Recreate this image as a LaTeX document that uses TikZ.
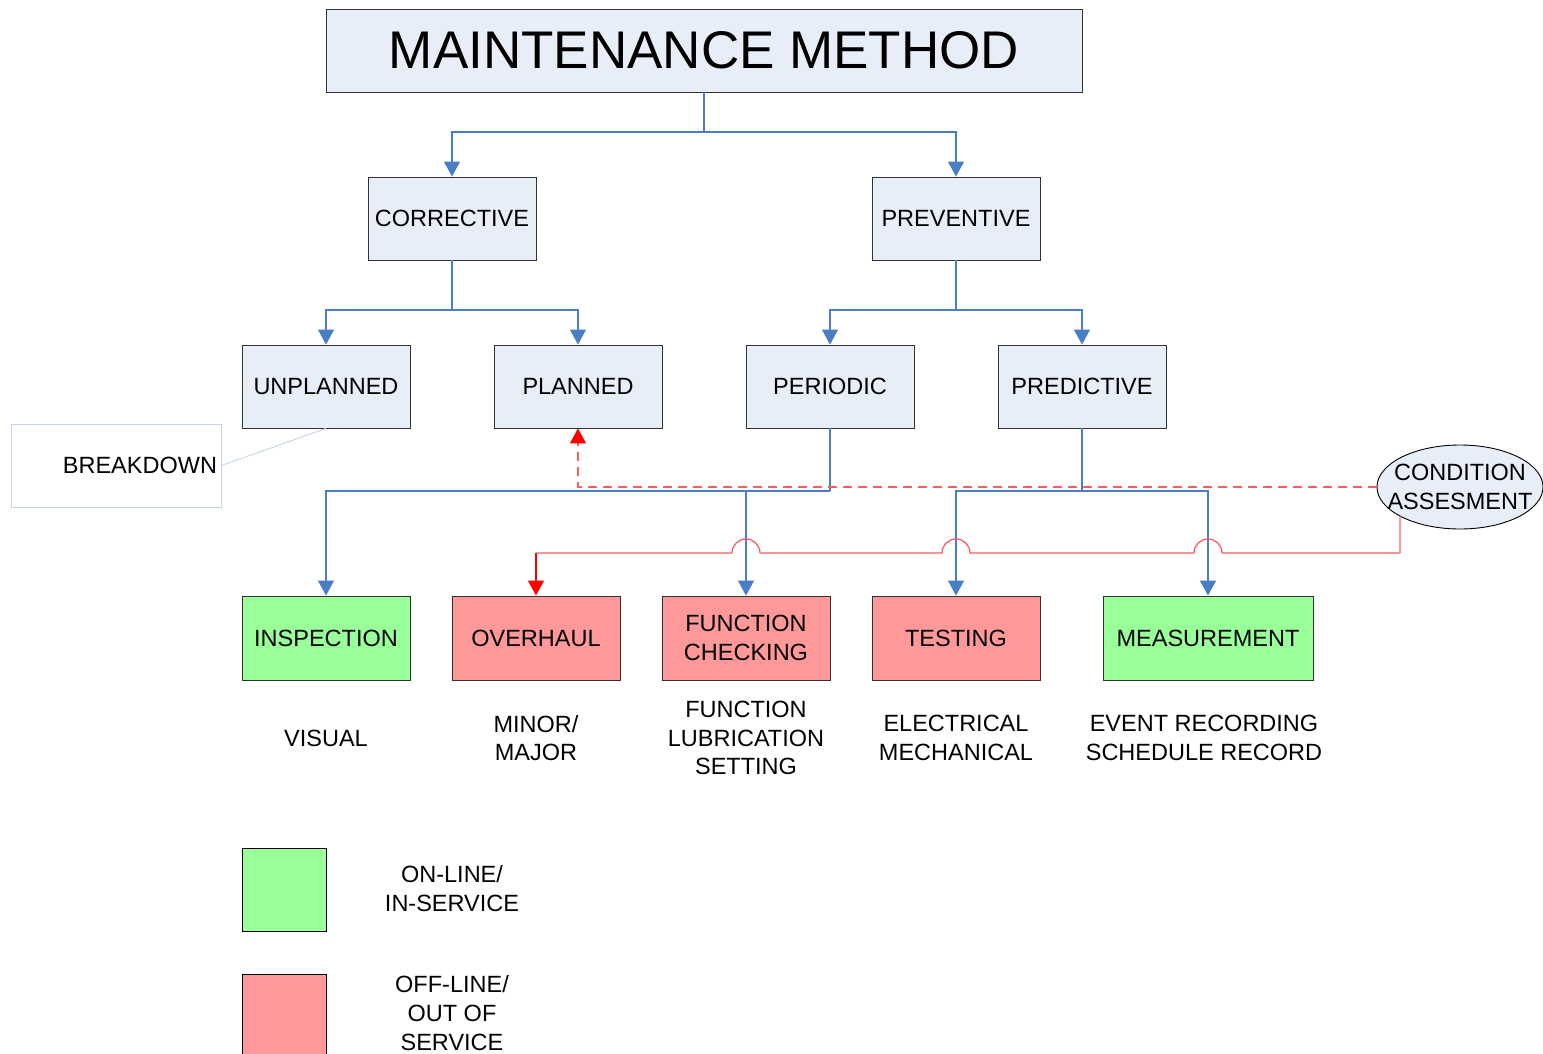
\documentclass[tikz,border=0pt]{standalone}
\usepackage{fontspec}
\setmainfont{Liberation Sans}
\usetikzlibrary{arrows.meta,shapes.geometric}
\definecolor{boxfill}{HTML}{E8EEF7}
\definecolor{boxline}{HTML}{333333}
\definecolor{flow}{HTML}{4A7EC4}
\definecolor{online}{HTML}{99FF99}
\definecolor{offline}{HTML}{FF9999}
\definecolor{redflow}{HTML}{FF5E5E}
\definecolor{note}{HTML}{C5D4EA}
\newcommand{\boxfont}{\fontsize{23.5}{28.8}\selectfont}
\begin{document}
\begin{tikzpicture}[x=1pt,y=-1pt,
  every node/.style={inner sep=0pt, align=center, font=\boxfont},
  block/.style={draw=boxline, line width=0.9pt, fill=boxfill, rectangle,
    minimum width=168pt, minimum height=83pt},
  task/.style={draw=boxline, line width=0.9pt, rectangle,
    minimum width=168pt, minimum height=84pt},
  legendbox/.style={draw=black, line width=0.9pt, rectangle,
    minimum width=84pt, minimum height=83pt},
  flowline/.style={draw=flow, line width=1.3pt,
    -{Triangle[width=16pt,length=15pt]}},
  plainflow/.style={draw=flow, line width=1.3pt},
  redline/.style={draw=redflow, line width=1.3pt},
  redtip/.style={-{Triangle[width=16pt,length=15pt,color=red,fill=red]}}
]
\useasboundingbox (0,0) rectangle (1543,1054);

% --- hierarchy boxes ---
\node[block, minimum width=756pt, minimum height=83pt,
      font=\fontsize{53}{60}\selectfont] (mm) at (704,50.5) {MAINTENANCE METHOD};
\node[block] (corr) at (452,218.5) {CORRECTIVE};
\node[block] (prev) at (956,218.5) {PREVENTIVE};
\node[block] (unpl) at (326,386.5) {UNPLANNED};
\node[block] (plan) at (578,386.5) {PLANNED};
\node[block] (peri) at (830,386.5) {PERIODIC};
\node[block] (pred) at (1082,386.5) {PREDICTIVE};

% --- breakdown note ---
\node[draw=note, line width=0.9pt, rectangle, minimum height=83pt,
      text width=202pt, inner xsep=4pt, align=right] (brk) at (116,465.5) {BREAKDOWN};
\draw[note, line width=0.9pt] (brk.east) -- (unpl.south);

% --- condition assessment ---
\node[draw=black, line width=0.9pt, fill=boxfill, ellipse,
      minimum width=166pt, minimum height=84pt] (ca) at (1460,487) {};
\node (catext) at (ca.center) {CONDITION\\ASSESMENT};

% --- maintenance tasks ---
\node[task, fill=online] (insp) at (326,638) {INSPECTION};
\node[task, fill=offline] (over) at (536,638) {OVERHAUL};
\node[task, fill=offline] (func) at (746,638) {FUNCTION\\CHECKING};
\node[task, fill=offline] (test) at (956,638) {TESTING};
\node[task, fill=online, minimum width=210pt] (meas) at (1208,638) {MEASUREMENT};

% --- task details ---
\node (dinsp) at (326,738) {VISUAL};
\node (dover) at (536,738) {MINOR/\\MAJOR};
\node (dfunc) at (746,738) {FUNCTION\\LUBRICATION\\SETTING};
\node (dtest) at (956,738) {ELECTRICAL\\MECHANICAL};
\node (dmeas) at (1204,738) {EVENT RECORDING\\SCHEDULE RECORD};

% --- legend ---
\node[legendbox, fill=online] (lgon) at (284,889.5) {};
\node (lgontext) at (452,888.5) {ON-LINE/\\IN-SERVICE};
\node[legendbox, fill=offline, minimum height=86pt] (lgoff) at (284,1017) {};
\node (lgofftext) at (452,1013) {OFF-LINE/\\OUT OF\\SERVICE};

% --- tree connectors ---
\coordinate (mmj) at (704,132);
\draw[plainflow] (mm.south) -- (mmj);
\draw[flowline] (mmj) -| (corr.north);
\draw[flowline] (mmj) -| (prev.north);

\coordinate (corrj) at (452,310);
\draw[plainflow] (corr.south) -- (corrj);
\draw[flowline] (corrj) -| (unpl.north);
\draw[flowline] (corrj) -| (plan.north);

\coordinate (prevj) at (956,310);
\draw[plainflow] (prev.south) -- (prevj);
\draw[flowline] (prevj) -| (peri.north);
\draw[flowline] (prevj) -| (pred.north);

\coordinate (perij) at (830,491);
\coordinate (funcj) at (746,491);
\draw[plainflow] (peri.south) -- (perij);
\draw[flowline] (perij) -| (insp.north);
\draw[flowline] (funcj) -- (func.north);

\coordinate (predj) at (1082,491);
\draw[plainflow] (pred.south) -- (predj);
\draw[flowline] (predj) -| (test.north);
\draw[flowline] (predj) -| (meas.north);

% --- condition assessment feedback ---
\draw[redline, dashed, dash pattern=on 9pt off 6pt, redtip] (ca.west) -| (plan.south);

\coordinate (caout) at (1400,516);
\coordinate (redj) at (1400,553);
\coordinate (overj) at (536,553);
\draw[redline] (caout) -- (redj)
  -- (1222,553) arc[start angle=0, end angle=180, radius=14pt]
  -- (970,553) arc[start angle=0, end angle=180, radius=14pt]
  -- (760,553) arc[start angle=0, end angle=180, radius=14pt]
  -- (overj);
\draw[draw=red, line width=1.3pt, redtip] (overj) -- (over.north);
\end{tikzpicture}
\end{document}
